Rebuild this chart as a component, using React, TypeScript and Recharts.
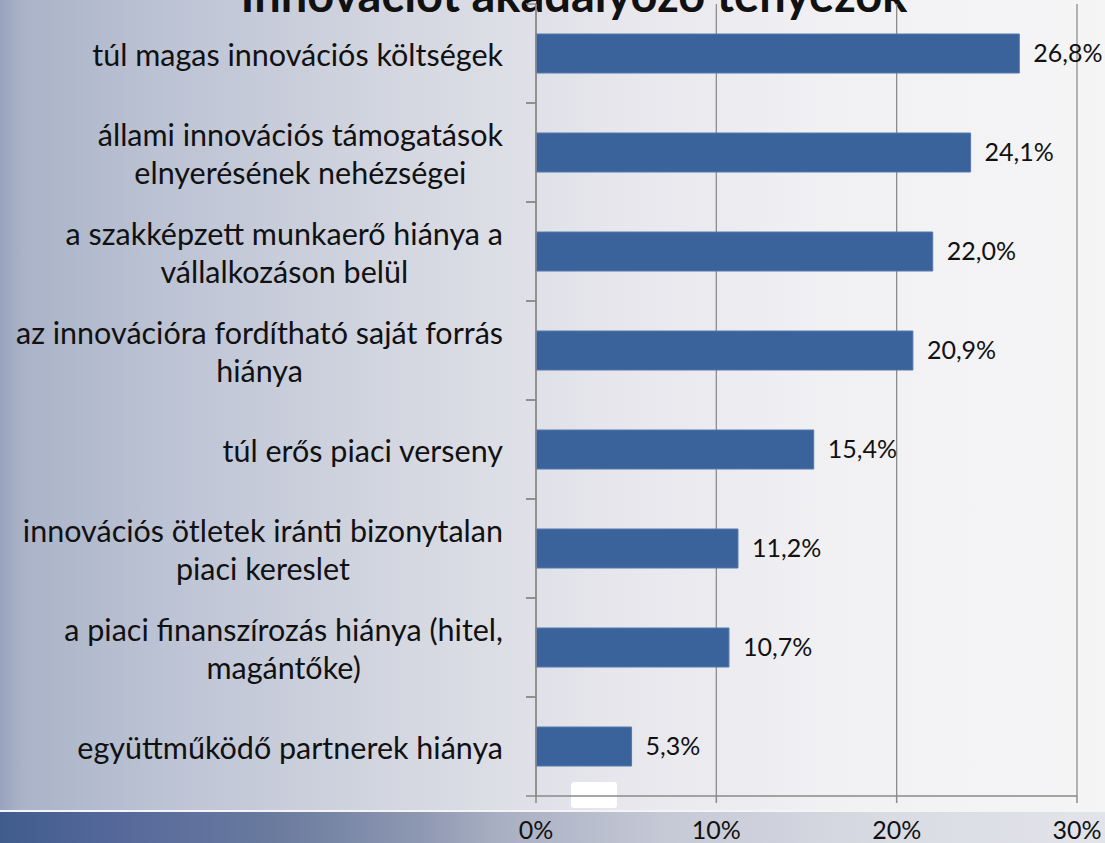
import React from 'react';
import { Bar, BarChart, CartesianGrid, LabelList, XAxis, YAxis } from 'recharts';

const categories = [
  'túl magas innovációs költségek',
  'állami innovációs támogatások\nelnyerésének nehézségei',
  'a szakképzett munkaerő hiánya a\nvállalkozáson belül',
  'az innovációra fordítható saját forrás\nhiánya',
  'túl erős piaci verseny',
  'innovációs ötletek iránti bizonytalan\npiaci kereslet',
  'a piaci finanszírozás hiánya (hitel,\nmagántőke)',
  'együttműködő partnerek hiánya',
];
const values = [26.8, 24.1, 22.0, 20.9, 15.4, 11.2, 10.7, 5.3];
const xTicks = [0, 10, 20, 30];

const W = 1105;
const H = 843;
const TOP = 4;
const AXIS_Y = 796;
const ROW = (AXIS_Y - TOP) / categories.length;
const FONT = 'Lato, "Open Sans", sans-serif';

const data = categories.map((name, i) => ({ name, value: values[i] }));

function CategoryTick(props: any) {
  const { x, y, payload } = props;
  const lines = String(payload.value).split('\n');
  const ax = x + 33;
  return (
    <g>
      <line x1={ax - 10} x2={ax} y1={y - ROW / 2} y2={y - ROW / 2} stroke="#8a8a8a" strokeWidth={1.5} />
      <line x1={ax - 10} x2={ax} y1={y + ROW / 2} y2={y + ROW / 2} stroke="#8a8a8a" strokeWidth={1.5} />
      <foreignObject x={x - 520} y={y - ROW / 2} width={520} height={ROW}>
        <div
          style={{
            width: 520,
            height: ROW,
            display: 'flex',
            justifyContent: 'flex-end',
            alignItems: 'center',
          }}
        >
          <div
            style={{
              textAlign: 'center',
              fontFamily: FONT,
              fontSize: 30.5,
              lineHeight: '38px',
              color: '#111',
              whiteSpace: 'nowrap',
            }}
          >
            {lines.map((l, i) => (
              <div key={i}>{l}</div>
            ))}
          </div>
        </div>
      </foreignObject>
    </g>
  );
}

export default function App() {
  return (
    <div
      style={{
        position: 'absolute',
        left: 0,
        top: 0,
        width: W,
        height: H,
        overflow: 'hidden',
        background:
          'linear-gradient(to right, #98a3bd 0%, #aab3c8 2%, #bcc3d4 15%, #d3d6e0 35%, #e6e6ec 55%, #f1f1f4 75%, #f5f5f6 100%)',
      }}
    >
      <div
        style={{
          position: 'absolute',
          left: 0,
          top: 810,
          width: W,
          height: 2,
          background: '#f4f4f6',
        }}
      />
      <div
        style={{
          position: 'absolute',
          left: 0,
          top: 812,
          width: W,
          height: H - 812,
          background:
            'linear-gradient(to right, #3f5d8c 0%, #55679a 10%, #6a7b9e 25%, #8e98b2 38%, #a8afc2 45%, #c5c9d6 60%, #d9dbe3 80%, #e3e4ea 100%)',
        }}
      />
      <div
        style={{
          position: 'absolute',
          left: 571,
          top: 782,
          width: 46,
          height: 26,
          borderRadius: 3,
          background: '#ffffff',
        }}
      />
      <div
        style={{
          position: 'absolute',
          left: 0,
          width: 1148,
          top: -29,
          textAlign: 'center',
          fontFamily: FONT,
          fontWeight: 700,
          fontSize: 47,
          lineHeight: 1,
          color: '#111',
          whiteSpace: 'nowrap',
        }}
      >
        Innovációt akadályozó tényezők
      </div>
      <div style={{ position: 'absolute', left: 0, top: 0 }}>
        <BarChart
          width={W}
          height={H}
          data={data}
          layout="vertical"
          margin={{ top: TOP, right: 28, bottom: 0, left: 0 }}
          barSize={39}
        >
          <CartesianGrid horizontal={false} stroke="#8c8c8c" strokeWidth={1.3} />
          <XAxis
            type="number"
            domain={[0, 30]}
            ticks={xTicks}
            tickFormatter={(v) => `${v}%`}
            height={H - AXIS_Y}
            axisLine={{ stroke: '#8a8a8a', strokeWidth: 1.5 }}
            tickLine={{ stroke: '#8a8a8a', strokeWidth: 1.5 }}
            tickSize={7}
            tickMargin={18}
            tick={{ fontSize: 25, fill: '#111', fontFamily: FONT }}
          />
          <YAxis
            type="category"
            dataKey="name"
            width={536}
            axisLine={{ stroke: '#8a8a8a', strokeWidth: 1.5 }}
            tickLine={false}
            tickMargin={33}
            tickSize={0}
            interval={0}
            tick={<CategoryTick />}
          />
          <Bar dataKey="value" fill="#3a639c" stroke="#5578ad" strokeWidth={1} isAnimationActive={false}>
            <LabelList
              dataKey="value"
              position="right"
              offset={14}
              formatter={(v: any) => `${Number(v).toFixed(1).replace('.', ',')}%`}
              style={{ fontSize: 25, fill: '#111', fontFamily: FONT }}
            />
          </Bar>
        </BarChart>
      </div>
    </div>
  );
}
